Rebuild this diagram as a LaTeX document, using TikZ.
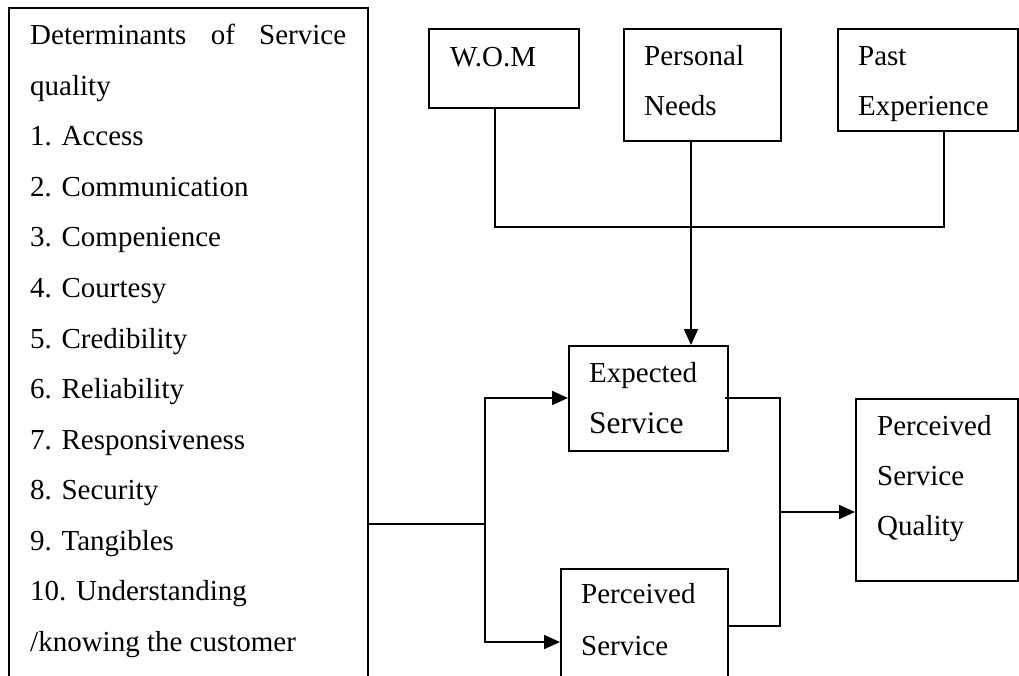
\documentclass[tikz,border=0pt]{standalone}
\usepackage{fontspec}
\setmainfont{Liberation Serif}
\usetikzlibrary{arrows.meta}

\tikzset{
  box/.style={draw, line width=1.8pt, inner sep=0pt, anchor=north west},
  txt/.style={anchor=base west, inner sep=0pt, font=\fontsize{29}{34}\selectfont},
  bigtxt/.style={anchor=base west, inner sep=0pt, font=\fontsize{31.5}{36}\selectfont},
  wire/.style={line width=1.8pt},
  arr/.style={wire, -{Triangle[length=16pt,width=14pt]}}
}

\begin{document}
\begin{tikzpicture}[x=1pt, y=-1pt]
\useasboundingbox (0,0) rectangle (1019,676);
\clip (0,0) rectangle (1019,676);

% boxes
\node[box, minimum width=359pt, minimum height=720pt] (det) at (8,7) {};
\node[box, minimum width=150pt, minimum height=79pt]  (wom) at (428,28) {};
\node[box, minimum width=157pt, minimum height=112pt] (pn)  at (623,28) {};
\node[box, minimum width=180pt, minimum height=102pt] (pe)  at (837,28) {};
\node[box, minimum width=159pt, minimum height=105pt] (es)  at (568,345) {};
\node[box, minimum width=167pt, minimum height=160pt] (ps)  at (560,568) {};
\node[box, minimum width=162pt, minimum height=182pt] (psq) at (855,398) {};

% list of determinants
\node[txt] (d0) at (30,45) {\makebox[316pt][s]{Determinants of Service}};
\foreach \t [count=\i] in {quality, 1. Access, 2. Communication, 3. Compenience,
  4. Courtesy, 5. Credibility, 6. Reliability, 7. Responsiveness, 8. Security,
  9. Tangibles, 10. Understanding, /knowing the customer}
  \node[txt] (d\i) at (30,{45+50.5*\i}) {\t};

% box labels
\node[txt] (womt) at (450,67) {W.O.M};
\node[txt] (pnt1) at (644,66) {Personal};
\node[txt] (pnt2) at (644,116) {Needs};
\node[txt] (pet1) at (858,66) {Past};
\node[txt] (pet2) at (858,116) {Experience};
\node[txt] (est1) at (589,382) {Expected};
\node[bigtxt] (est2) at (589,433) {Service};
\node[txt] (pst1) at (581,603) {Perceived};
\node[txt] (pst2) at (581,655) {Service};
\node[txt] (psqt1) at (877,435) {Perceived};
\node[txt] (psqt2) at (877,485) {Service};
\node[txt] (psqt3) at (877,535) {Quality};

% junction points
\coordinate (jw) at (495,227);
\coordinate (jn) at (691,227);
\coordinate (jp) at (944,227);
\coordinate (split) at (485,524);
\coordinate (jtop) at (485,398);
\coordinate (jbot) at (485,642);
\coordinate (mtop) at (780,398);
\coordinate (mmid) at (780,512);
\coordinate (mbot) at (780,626);

% antecedents of expected service
\draw[wire] (wom.south -| jw) -- (jw) -- (jp) -- (pe.south -| jp);
\draw[arr] (pn.south -| jn) -- (es.north -| jn);

% determinants feed both services
\draw[wire] (det.east |- split) -- (split);
\draw[arr] (split) -- (jtop) -- (es.west |- jtop);
\draw[arr] (split) -- (jbot) -- (ps.west |- jbot);

% gap between expected and perceived service
\draw[wire] ([xshift=-4pt]es.east |- mtop) -- (mtop) -- (mbot) -- (ps.east |- mbot);
\draw[arr] (mmid) -- (psq.west |- mmid);
\end{tikzpicture}
\end{document}
